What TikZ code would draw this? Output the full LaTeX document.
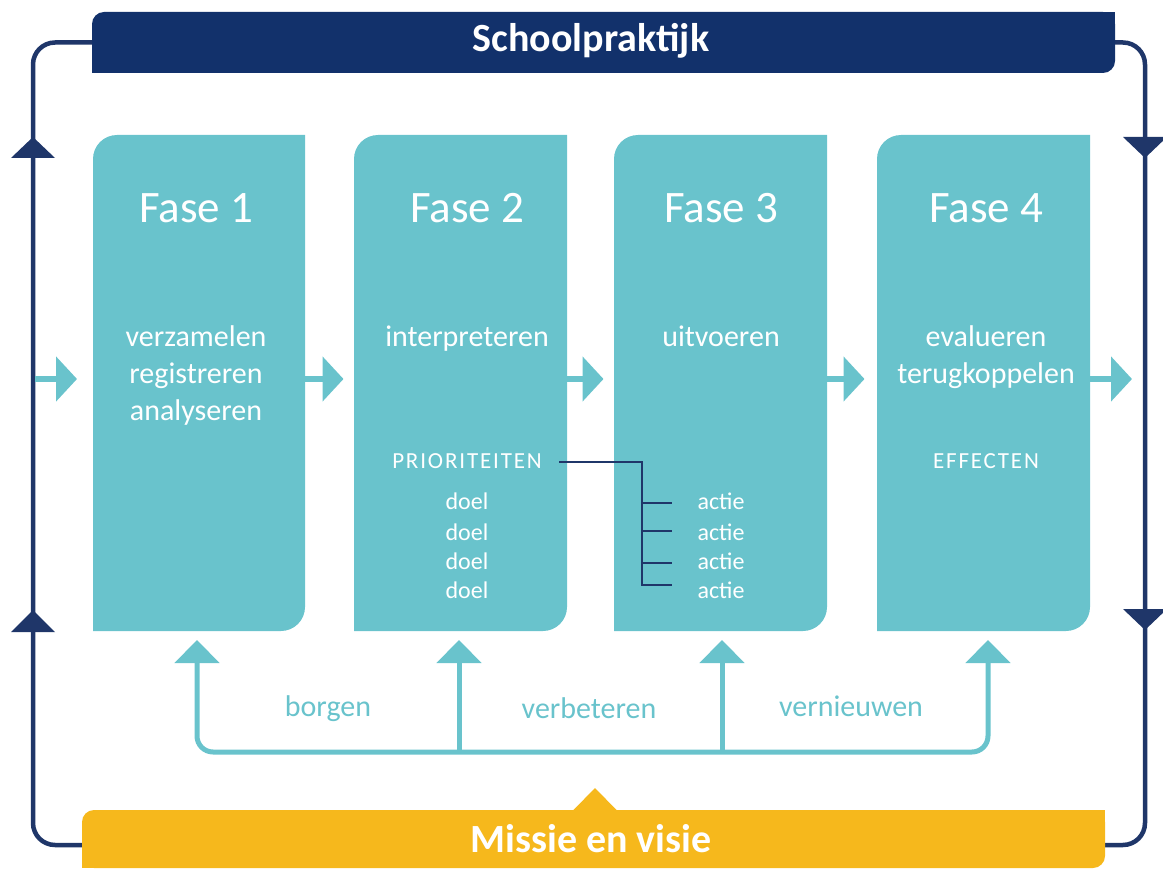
\documentclass[tikz,border=0pt]{standalone}
\usepackage{fontspec}
\setmainfont{Carlito}
\usetikzlibrary{arrows.meta,backgrounds}
\definecolor{navybar}{HTML}{12316B}
\definecolor{navyline}{HTML}{1F3669}
\definecolor{tealc}{HTML}{69C3CC}
\definecolor{yellowc}{HTML}{F6B81C}
\tikzset{
  phasebox/.style={minimum width=212pt, minimum height=496pt, inner sep=0pt, outer sep=0pt},
  barbox/.style={rounded corners=12pt, inner sep=0pt, outer sep=0pt},
  loopline/.style={draw=navyline, line width=4.5pt, rounded corners=22pt},
  looptip/.style={fill=navyline},
  flow/.style={draw=tealc, line width=6pt, -{Triangle[length=21pt,width=44pt]}},
  fb/.style={draw=tealc, line width=5pt},
  br/.style={draw=navyline, line width=1.8pt},
  wt/.style={text=white, anchor=base, inner sep=0pt},
  fasetxt/.style={wt, font=\fontsize{45}{45}\selectfont},
  midtxt/.style={wt, font=\fontsize{30}{30}\selectfont},
  smalltxt/.style={wt, font=\fontsize{24}{24}\selectfont},
  capstxt/.style={wt, font=\fontsize{23}{23}\selectfont\addfontfeature{LetterSpace=8}},
  lbl/.style={text=tealc, anchor=base, inner sep=0pt, font=\fontsize{30}{30}\selectfont},
  bigtxt/.style={text=white, anchor=base, inner sep=0pt, font=\fontsize{40}{40}\selectfont\bfseries}
}
\begin{document}
\begin{tikzpicture}[x=1pt,y=-1pt]
\useasboundingbox (0,0) rectangle (1163,869);
\clip (0,0) rectangle (1163,869);
\coordinate (tl) at (33,42.5);
\coordinate (bl) at (33,845);
\coordinate (tr) at (1145,42.5);
\coordinate (brc) at (1145,845);
% bars
\node[barbox, fill=navybar, minimum width=1023pt, minimum height=61pt] (sp) at (603.5,42.5) {};
\node[barbox, fill=yellowc, minimum width=1023pt, minimum height=58pt] (mv) at (593.5,839) {};
\begin{scope}[on background layer]
\draw[loopline] (sp.west) -- (tl) -- (bl) -- (mv.west |- bl);
\draw[loopline] (sp.east) -- (tr) -- (brc) -- (mv.east |- brc);
\end{scope}
\fill[navybar] (sp.north east) rectangle ++(-20,20);
\fill[navybar] (sp.south west) rectangle ++(20,-20);
\fill[yellowc] (mv.north east) rectangle ++(-20,20);
\fill[yellowc] (mv.south west) rectangle ++(20,-20);
\fill[yellowc] (573,810.5) -- (595,788) -- (617,810.5) -- cycle;
\node[bigtxt] (sptxt) at (591,52) {Schoolpraktijk};
\node[bigtxt] (mvtxt) at (591,852) {Missie en visie};
% loop arrowheads
\fill[looptip] (11,158) -- (33,137) -- (55,158) -- cycle;
\fill[looptip] (11,632) -- (33,610) -- (55,632) -- cycle;
\fill[looptip] (1123,137) -- (1145,158) -- (1167,137) -- cycle;
\fill[looptip] (1123,609) -- (1145,630) -- (1167,609) -- cycle;
% phase boxes
\foreach \L/\R in {93/305,354/567,614/827,877/1090}{
  \fill[tealc] (\L,631) -- (\L,159) arc[start angle=180, end angle=270, radius=24]
     -- (\R,135) -- (\R,607) arc[start angle=0, end angle=90, radius=24] -- cycle;
}
\node[phasebox] (b1) at (199,383) {};
\node[phasebox] (b2) at (460.5,383) {};
\node[phasebox] (b3) at (720.5,383) {};
\node[phasebox] (b4) at (983.5,383) {};
% flow arrows
\coordinate (inflow) at (35,379);
\coordinate (outflow) at (1132,379);
\draw[flow, shorten >=16pt] (inflow) -- (b1.west |- inflow);
\draw[flow, shorten >=11pt] (b1.east |- inflow) -- (b2.west |- inflow);
\draw[flow, shorten >=11pt] (b2.east |- inflow) -- (b3.west |- inflow);
\draw[flow, shorten >=13pt] (b3.east |- inflow) -- (b4.west |- inflow);
\draw[flow] (b4.east |- outflow) -- (outflow);
% feedback loop
\coordinate (r1) at (197,640);
\coordinate (r2) at (459,640);
\coordinate (r3) at (722,640);
\coordinate (r4) at (988,640);
\coordinate (f1) at (197,752);
\coordinate (f2) at (459,752);
\coordinate (f3) at (722,752);
\coordinate (f4) at (988,752);
\draw[fb, rounded corners=16pt, {Triangle[length=23pt,width=44pt]}-{Triangle[length=23pt,width=44pt]}] (r1) -- (f1) -- (f4) -- (r4);
\draw[fb, -{Triangle[length=23pt,width=44pt]}] (f2) -- (r2);
\draw[fb, -{Triangle[length=23pt,width=44pt]}] (f3) -- (r3);
\node[lbl] (lb1) at (328,716) {borgen};
\node[lbl] (lb2) at (589,718) {verbeteren};
\node[lbl] (lb3) at (851,716) {vernieuwen};
% box texts
\node[fasetxt] (t1) at (196,223) {Fase 1};
\node[fasetxt] (t2) at (467,223) {Fase 2};
\node[fasetxt] (t3) at (721,223) {Fase 3};
\node[fasetxt] (t4) at (986,223) {Fase 4};
\node[midtxt] (v1) at (196,346) {verzamelen};
\node[midtxt] (v2) at (196,383) {registreren};
\node[midtxt] (v3) at (196,420) {analyseren};
\node[midtxt] (i1) at (467,346) {interpreteren};
\node[midtxt] (u1) at (721,346) {uitvoeren};
\node[midtxt] (e1) at (986,346) {evalueren};
\node[midtxt] (e2) at (986,383) {terugkoppelen};
\node[capstxt] (prio) at (467,468) {PRIORITEITEN};
\node[capstxt] (eff) at (986,468) {EFFECTEN};
\foreach \y/\n in {509/1,540/2,569/3,598/4}{
  \node[smalltxt] (d\n) at (467,\y) {doel};
  \node[smalltxt] (a\n) at (721,\y) {actie};
}
% bracket
\coordinate (bs) at (559,462);
\coordinate (bj) at (642,462);
\draw[br] (bs) -- (bj) -- (642,585);
\foreach \y in {503,531,563,585}{
  \draw[br] (641.1,\y) -- (672,\y);
}
\end{tikzpicture}
\end{document}
